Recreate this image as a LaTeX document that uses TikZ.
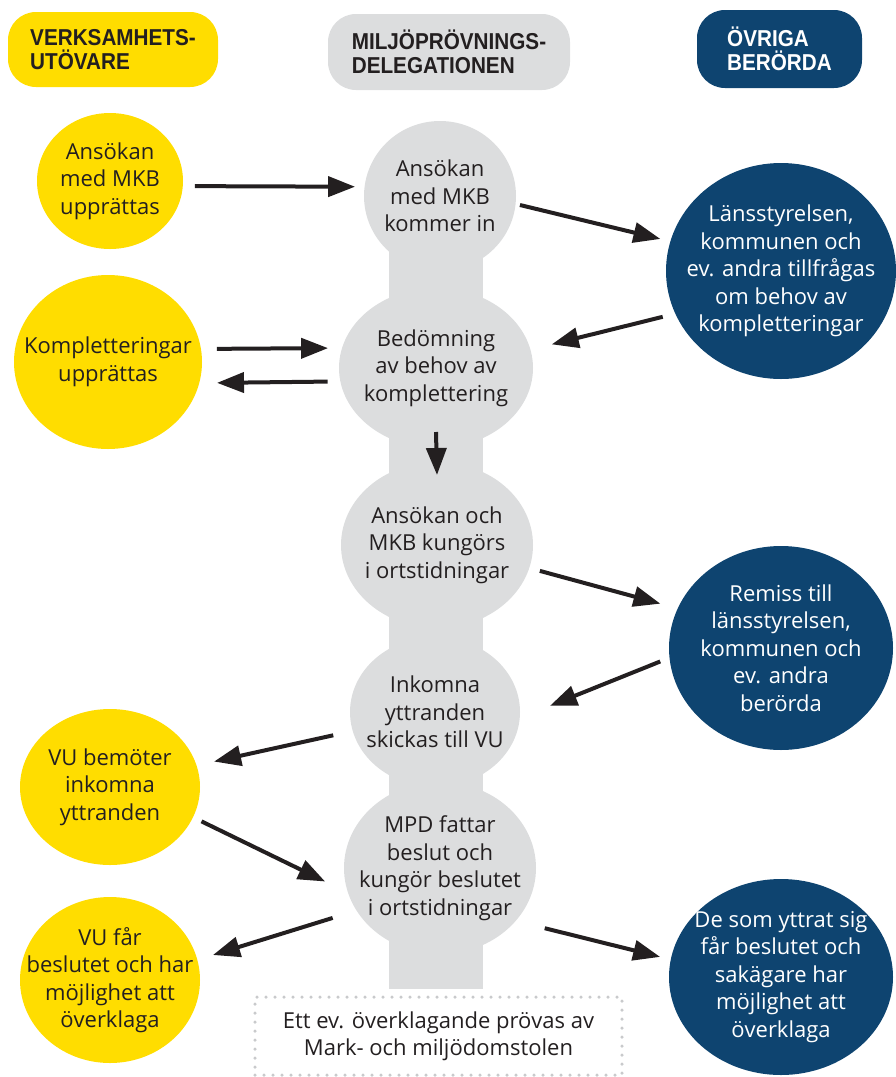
\documentclass[tikz,border=0pt]{standalone}
\usepackage{fontspec}
\setmainfont{Open Sans}
\newfontfamily\headfont[FakeStretch=0.9]{Liberation Sans}
\usetikzlibrary{shapes.geometric,arrows.meta}
\definecolor{vyellow}{HTML}{FFDD00}
\definecolor{vgray}{HTML}{DCDDDE}
\definecolor{vblue}{HTML}{0E4470}
\definecolor{vtext}{HTML}{231F20}
\definecolor{vdots}{HTML}{C9CACC}
\tikzset{
  bubble/.style={ellipse, inner sep=-30pt, outer sep=0pt, align=center,
    font=\fontsize{22}{27.5}\selectfont, text=vtext},
  ybub/.style={bubble, fill=vyellow},
  gbub/.style={bubble, fill=vgray},
  bbub/.style={bubble, fill=vblue, text=white},
  head/.style={rounded corners=28pt, inner sep=0pt, align=left,
    font=\headfont\bfseries\fontsize{23}{24.5}\selectfont, text=vtext},
  arr/.style={line width=4pt, draw=vtext, -{Triangle[length=27pt,width=20pt]}},
}
\begin{document}
\begin{tikzpicture}[x=1pt,y=-1pt]
\useasboundingbox (0,0) rectangle (896,1077);
% headers
\node[head, fill=vyellow, minimum width=210pt, minimum height=75pt] (h1) at (113,49.5) {VERKSAMHETS-\\UTÖVARE};
\node[head, fill=vgray, minimum width=242pt, minimum height=76pt] (h2) at (449,52) {MILJÖPRÖVNINGS-\\DELEGATIONEN};
\node[head, fill=vblue, text=white, minimum width=165pt, minimum height=78pt] (h3) at (779.5,49) {ÖVRIGA\\BERÖRDA};
% gray column
\fill[vgray] (389,196) rectangle (483,989);
\node[gbub, minimum width=152pt, minimum height=150pt] (g1) at (440,196) {Ansökan\\med MKB\\kommer in};
\node[gbub, minimum width=194pt, minimum height=160pt] (g2) at (436,368) {Bedömning\\av behov av\\komplettering};
\node[gbub, minimum width=192pt, minimum height=166pt] (g3) at (437,545) {Ansökan och\\MKB kungörs\\i ortstidningar};
\node[gbub, minimum width=170pt, minimum height=150pt] (g4) at (435,712) {Inkomna\\yttranden\\skickas till VU};
\node[gbub, minimum width=192pt, minimum height=172pt] (g5) at (440,868) {MPD fattar\\beslut och\\kungör beslutet\\i ortstidningar};
% yellow
\node[ybub, minimum width=146pt, minimum height=136pt] (y1) at (110,181) {Ansökan\\med MKB\\upprättas};
\node[ybub, minimum width=188pt, minimum height=174pt] (y2) at (108,362) {Kompletteringar\\upprättas};
\node[ybub, minimum width=180pt, minimum height=156pt] (y3) at (110,787) {VU bemöter\\inkomna\\yttranden};
\node[ybub, minimum width=180pt, minimum height=166pt] (y4) at (110,980) {VU får\\beslutet och har\\möjlighet att\\överklaga};
% blue
\node[bbub, minimum width=230pt, minimum height=216pt] (b1) at (781,271) {Länsstyrelsen,\\kommunen och\\ev. andra tillfrågas\\om behov av\\kompletteringar};
\node[bbub, minimum width=224pt, minimum height=204pt] (b2) at (781,648) {Remiss till\\länsstyrelsen,\\kommunen och\\ev. andra\\berörda};
\node[bbub, minimum width=224pt, minimum height=196pt] (b3) at (781,977) {De som yttrat sig\\får beslutet och\\sakägare har\\möjlighet att\\överklaga};
% dotted box
\node[draw=vdots, line width=3.5pt, dash pattern=on 0pt off 9pt, line cap=round,
  minimum width=367pt, minimum height=78pt, align=center,
  font=\fontsize{22}{27}\selectfont, text=vtext] (mmd) at (438.5,1036) {Ett ev. överklagande prövas av\\Mark- och miljödomstolen};
% arrows
\draw[arr, shorten <=12pt, shorten >=9.5pt] (y1.-4.7) -- (g1.173.2);
\draw[arr, shorten <=4.5pt, shorten >=10.3pt] (g1.-6) -- (b1.165.6);
\draw[arr, shorten <=13pt, shorten >=22pt] (b1.202.7) -- (g2.11.3);
\draw[arr, shorten <=16pt, shorten >=14pt] (y2.8.6) -- (g2.168);
\draw[arr, shorten <=12.7pt, shorten >=17.8pt] (g2.188.9) -- (y2.-13);
\draw[arr] ([yshift=16pt]g2.south) -- ([yshift=-13pt]g3.north);
\draw[arr, shorten <=11pt, shorten >=18pt] (g3.-14.7) -- (b2.159.2);
\draw[arr, shorten <=10pt, shorten >=32.6pt] (b2.185.2) -- (g4.-4.9);
\draw[arr, shorten <=20pt, shorten >=18pt] (g4.193.6) -- (y3.14.5);
\draw[arr, shorten <=9.5pt, shorten >=25.5pt] (y3.-20.3) -- (g5.195.2);
\draw[arr, shorten <=25pt, shorten >=16.4pt] (g5.207.2) -- (y4.13);
\draw[arr, shorten <=30pt, shorten >=11pt] (g5.-35.1) -- (b3.171);
\end{tikzpicture}
\end{document}
